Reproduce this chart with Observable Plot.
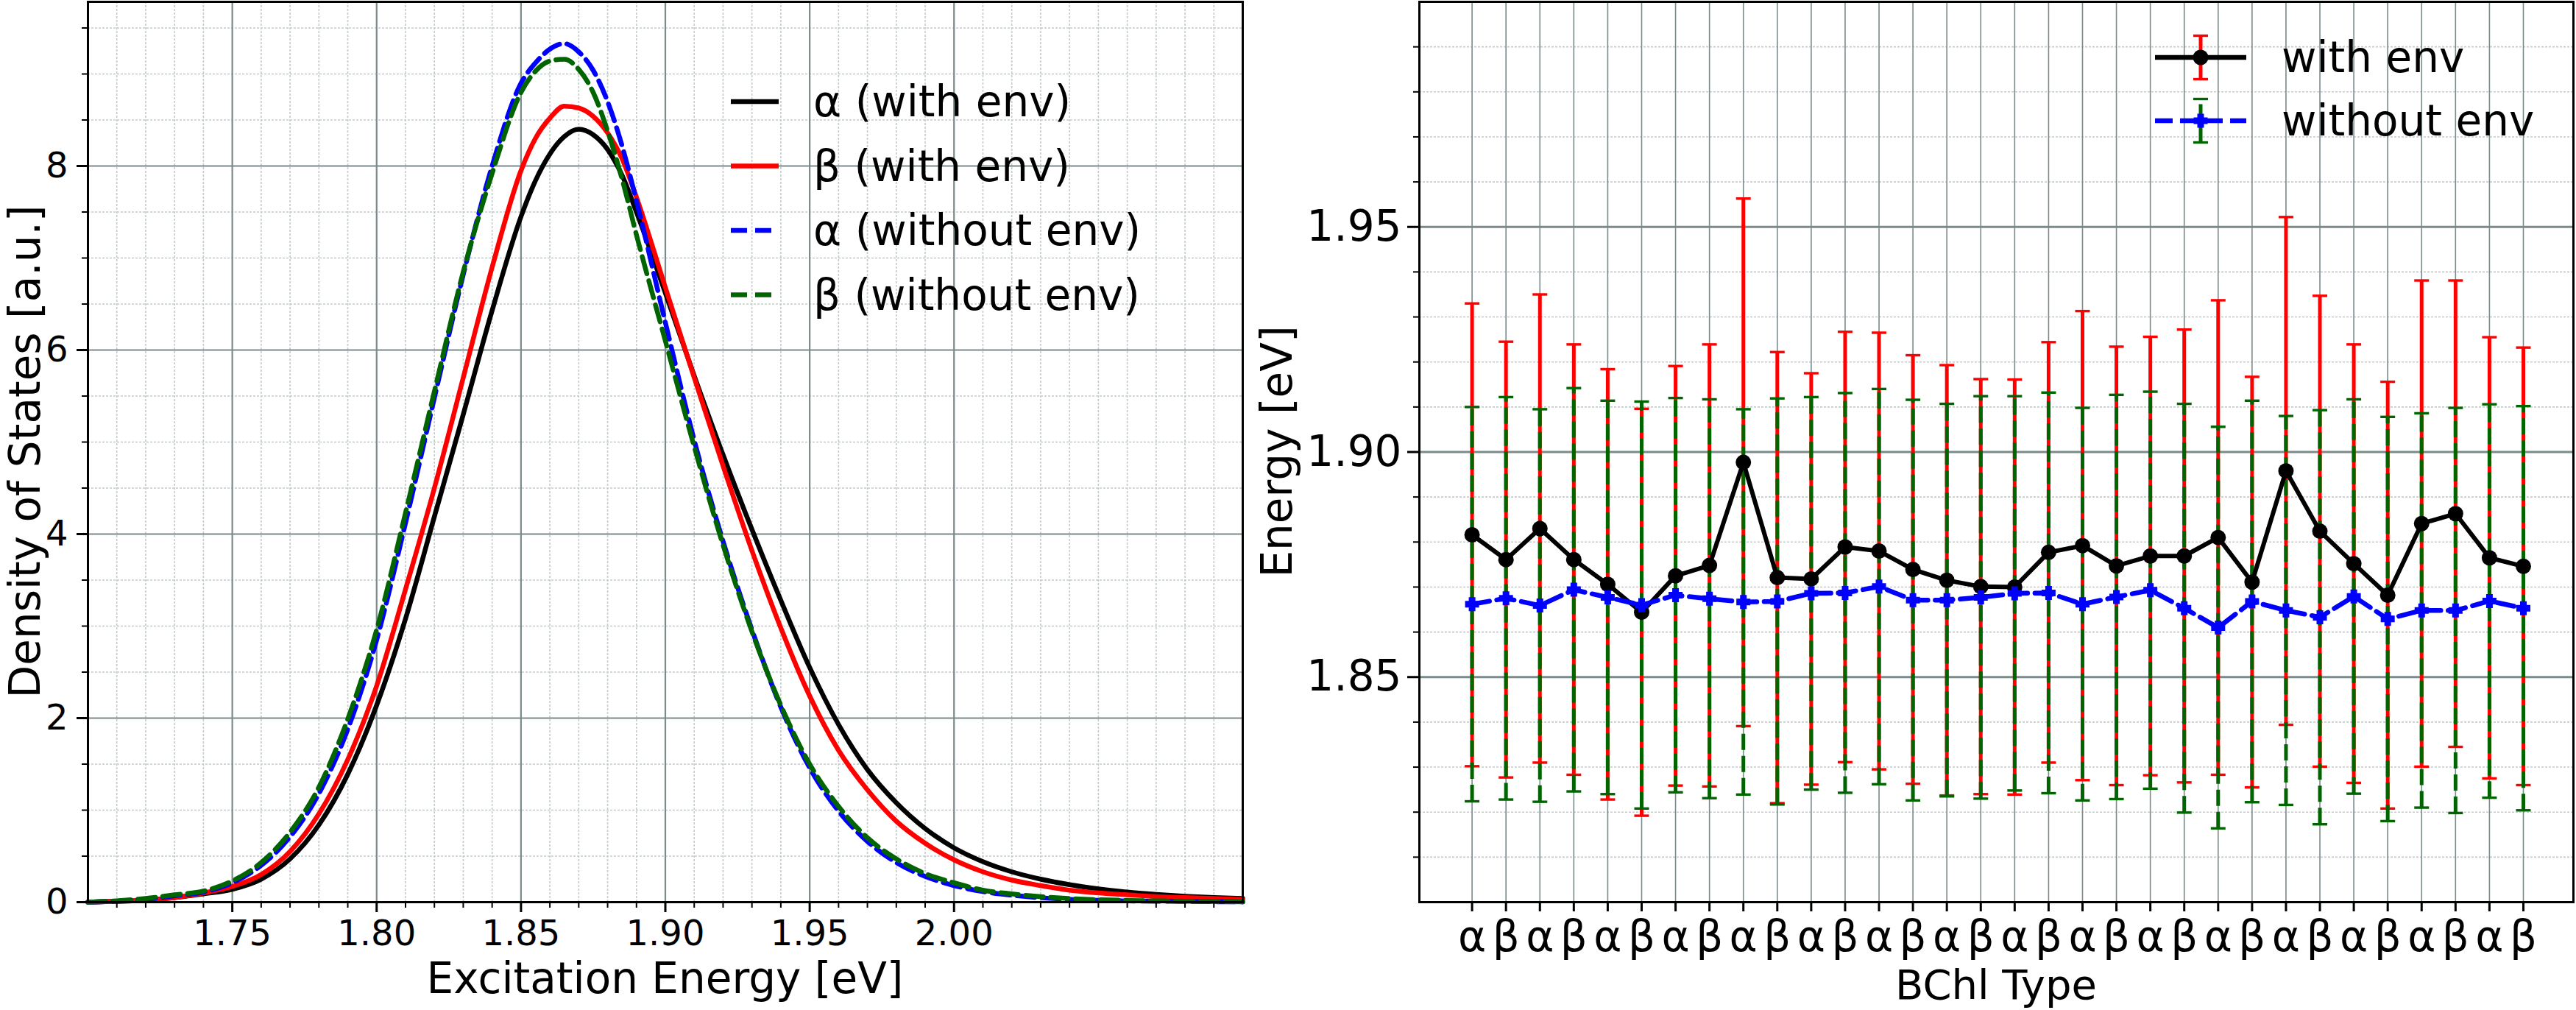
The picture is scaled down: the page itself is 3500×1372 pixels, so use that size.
<!DOCTYPE html>
<html>
<head>
<meta charset="utf-8">
<script src="https://cdn.jsdelivr.net/npm/d3@7"></script>
<script src="https://cdn.jsdelivr.net/npm/@observablehq/plot@0.6"></script>
<style>
  html, body { margin: 0; padding: 0; background: #ffffff; }
  #wrap { position: relative; width: 3500px; height: 1372px; overflow: hidden; background: #fff; font-family: "DejaVu Sans", sans-serif; }
  #left, #right { position: absolute; top: 0; }
  #left { left: 0; }
  #right { left: 1700px; }
  svg { overflow: visible; }
</style>
</head>
<body>
<div id="wrap"><div id="left"></div><div id="right"></div></div>
<script>
// ---------------- Left panel data: density of states ----------------
const energyGrid = [1.70,1.71,1.72,1.73,1.74,1.75,1.76,1.77,1.78,1.79,1.80,1.81,1.82,1.83,1.84,1.85,1.855,1.86,1.865,1.87,1.875,1.88,1.885,1.89,1.90,1.91,1.92,1.93,1.94,1.95,1.96,1.97,1.98,1.99,2.00,2.01,2.02,2.03,2.04,2.05,2.06,2.07,2.08,2.09,2.10];
const dosAlphaWithEnv = [0,0.01,0.02,0.05,0.09,0.14,0.25,0.47,0.84,1.39,2.14,3.08,4.19,5.30,6.43,7.45,7.84,8.13,8.32,8.40,8.34,8.18,7.90,7.50,6.62,5.72,4.86,4.05,3.28,2.55,1.93,1.44,1.08,0.80,0.59,0.44,0.33,0.25,0.19,0.145,0.11,0.085,0.065,0.05,0.04];
const dosBetaWithEnv = [0,0.01,0.02,0.05,0.10,0.17,0.30,0.55,0.96,1.55,2.35,3.40,4.50,5.70,6.90,7.95,8.30,8.52,8.65,8.63,8.54,8.36,8.08,7.66,6.68,5.70,4.74,3.82,2.98,2.24,1.65,1.22,0.88,0.64,0.46,0.33,0.24,0.18,0.13,0.10,0.08,0.06,0.05,0.04,0.03];
const dosAlphaWithoutEnv = [0,0.01,0.03,0.07,0.11,0.21,0.40,0.71,1.18,1.88,2.85,4.12,5.48,6.82,8.00,8.90,9.12,9.27,9.33,9.24,9.04,8.70,8.22,7.62,6.30,5.02,3.92,2.96,2.12,1.46,0.99,0.66,0.43,0.28,0.18,0.115,0.075,0.048,0.031,0.02,0.013,0.01,0.008,0.005,0.003];
const dosBetaWithoutEnv = [0,0.015,0.04,0.08,0.12,0.23,0.43,0.76,1.25,1.99,2.96,4.23,5.55,6.85,7.92,8.80,9.03,9.14,9.16,9.05,8.80,8.38,7.86,7.25,6.10,4.95,3.88,2.94,2.14,1.50,1.04,0.70,0.47,0.31,0.21,0.13,0.09,0.06,0.04,0.027,0.019,0.014,0.01,0.007,0.005];
const dosSeriesNames = ["α (with env)", "β (with env)", "α (without env)", "β (without env)"];
const energyTicks = [1.75, 1.80, 1.85, 1.90, 1.95, 2.00];
const dosTicks = [0, 2, 4, 6, 8];

// ---------------- Right panel data: per-BChl excitation energies ----------------
const bchlTypes = ["α","β","α","β","α","β","α","β","α","β","α","β","α","β","α","β","α","β","α","β","α","β","α","β","α","β","α","β","α","β","α","β"];
const energyWithEnv = [1.8816,1.8761,1.8830,1.8761,1.8706,1.8644,1.8725,1.8748,1.8977,1.8721,1.8718,1.8789,1.8780,1.8739,1.8715,1.8701,1.8700,1.8777,1.8792,1.8747,1.8769,1.8769,1.8810,1.8711,1.8958,1.8824,1.8752,1.8682,1.8841,1.8863,1.8765,1.8746];
const stdWithEnv = [0.0514,0.0484,0.0520,0.0478,0.0478,0.0452,0.0466,0.0491,0.0586,0.0501,0.0457,0.0478,0.0485,0.0476,0.0478,0.0461,0.0461,0.0467,0.0521,0.0487,0.0487,0.0503,0.0527,0.0456,0.0564,0.0523,0.0487,0.0474,0.0540,0.0518,0.0490,0.0486];
const energyWithoutEnv = [1.8662,1.8675,1.8659,1.8694,1.8677,1.8660,1.8682,1.8674,1.8667,1.8668,1.8686,1.8687,1.8701,1.8671,1.8671,1.8677,1.8686,1.8687,1.8662,1.8678,1.8693,1.8653,1.8610,1.8668,1.8648,1.8633,1.8679,1.8629,1.8648,1.8648,1.8669,1.8653];
const stdWithoutEnv = [0.0438,0.0447,0.0436,0.0448,0.0437,0.0452,0.0438,0.0443,0.0428,0.0451,0.0436,0.0444,0.0439,0.0445,0.0436,0.0447,0.0438,0.0445,0.0436,0.0449,0.0441,0.0454,0.0446,0.0446,0.0432,0.0460,0.0438,0.0449,0.0438,0.0450,0.0437,0.0449];
const energyAxisTicks = [1.85, 1.90, 1.95];
const energySeriesNames = ["with env", "without env"];

// ---------------- styles ----------------
const FONT = "DejaVu Sans";
const MAJOR_GRID = "#7b8a8b";
const MINOR_GRID = "#c3cbcb";
const RED = "#ff0000", BLUE = "#0000ff", GREEN = "#006400";

// ---------------- LEFT PANEL ----------------
const dosRows = [];
const dosLists = [dosAlphaWithEnv, dosBetaWithEnv, dosAlphaWithoutEnv, dosBetaWithoutEnv];
dosLists.forEach((vals, k) => energyGrid.forEach((e, j) => dosRows.push({series: dosSeriesNames[k], e, v: vals[j]})));

const xMinorLeft = d3.range(171, 210).map(k => k / 100).filter(v => !energyTicks.some(t => Math.abs(t - v) < 1e-6));
const yMinorLeft = d3.range(1, 20).map(k => k / 2).filter(v => !dosTicks.includes(v));

const lineStyle = {
  [dosSeriesNames[0]]: {stroke: "#000000", dash: null},
  [dosSeriesNames[1]]: {stroke: RED, dash: null},
  [dosSeriesNames[2]]: {stroke: BLUE, dash: "24,10"},
  [dosSeriesNames[3]]: {stroke: GREEN, dash: "24,10"}
};

const leftPlot = Plot.plot({
  width: 1700, height: 1372,
  marginLeft: 119, marginRight: 12, marginTop: 2, marginBottom: 147,
  style: {fontFamily: FONT, fontSize: "48px", background: "transparent", color: "#000", overflow: "visible"},
  x: {domain: [1.70, 2.10], label: null},
  y: {domain: [0, 9.784], label: null},
  marks: [
    Plot.gridX({ticks: xMinorLeft, stroke: MINOR_GRID, strokeOpacity: 1, strokeWidth: 1.6, strokeDasharray: "3,2"}),
    Plot.gridY({ticks: yMinorLeft, stroke: MINOR_GRID, strokeOpacity: 1, strokeWidth: 1.6, strokeDasharray: "3,2"}),
    Plot.gridX({ticks: energyTicks, stroke: MAJOR_GRID, strokeOpacity: 1, strokeWidth: 2.2}),
    Plot.gridY({ticks: dosTicks.filter(d => d > 0), stroke: MAJOR_GRID, strokeOpacity: 1, strokeWidth: 2.2}),
    ...dosSeriesNames.map(name => Plot.line(dosRows.filter(d => d.series === name), {
      x: "e", y: "v", curve: "monotone-x",
      stroke: lineStyle[name].stroke, strokeWidth: 6.5,
      strokeDasharray: lineStyle[name].dash || undefined
    })),
    Plot.frame({stroke: "#000", strokeWidth: 3}),
    Plot.axisX({ticks: xMinorLeft, tickSize: 8, tickFormat: () => "", strokeWidth: 2, label: null}),
    Plot.axisY({ticks: yMinorLeft, tickSize: 8, tickFormat: () => "", strokeWidth: 2, label: null}),
    Plot.axisX({ticks: energyTicks, tickSize: 14, tickPadding: 10, tickFormat: d3.format(".2f"), strokeWidth: 3, fontSize: 48, label: null}),
    Plot.axisY({ticks: dosTicks, tickSize: 15, tickPadding: 12, tickFormat: d3.format("d"), strokeWidth: 3, fontSize: 48, label: null})
  ]
});
document.getElementById("left").appendChild(leftPlot);

{
  const svg = d3.select(leftPlot);
  svg.append("text").attr("x", 903.5).attr("y", 1349).attr("text-anchor", "middle")
    .attr("font-family", FONT).attr("font-size", 58).attr("fill", "#000").text("Excitation Energy [eV]");
  svg.append("text").attr("transform", "translate(54,613.5) rotate(-90)").attr("text-anchor", "middle")
    .attr("font-family", FONT).attr("font-size", 58).attr("fill", "#000").text("Density of States [a.u.]");
  const legY = [138, 225.5, 313, 400.5];
  const lg = svg.append("g");
  dosSeriesNames.forEach((name, k) => {
    const st = lineStyle[name];
    const l = lg.append("line").attr("x1", 993).attr("x2", 1058).attr("y1", legY[k]).attr("y2", legY[k])
      .attr("stroke", st.stroke).attr("stroke-width", 6.5);
    if (st.dash) l.attr("stroke-dasharray", "22,11");
    lg.append("text").attr("x", 1105).attr("y", legY[k]).attr("dy", "0.35em").attr("text-anchor", "start")
      .attr("font-family", FONT).attr("font-size", 58).attr("fill", "#000").text(name);
  });
}

// ---------------- RIGHT PANEL ----------------
const rows = bchlTypes.map((t, i) => ({
  i, t,
  env: energyWithEnv[i], envLo: energyWithEnv[i] - stdWithEnv[i], envHi: energyWithEnv[i] + stdWithEnv[i],
  noenv: energyWithoutEnv[i], noLo: energyWithoutEnv[i] - stdWithoutEnv[i], noHi: energyWithoutEnv[i] + stdWithoutEnv[i]
}));
const idx = rows.map(d => d.i);
const yMinorRight = d3.range(181, 200).map(k => k / 100).filter(v => !energyAxisTicks.some(t => Math.abs(t - v) < 1e-6));

const capSymbol = {draw(ctx) { ctx.moveTo(-10, -1.7); ctx.lineTo(10, -1.7); ctx.lineTo(10, 1.7); ctx.lineTo(-10, 1.7); ctx.closePath(); }};
const plusSymbol = {draw(ctx) {
  const a = 9.5, b = 4.5;
  ctx.moveTo(-b, -a); ctx.lineTo(b, -a); ctx.lineTo(b, -b); ctx.lineTo(a, -b); ctx.lineTo(a, b); ctx.lineTo(b, b);
  ctx.lineTo(b, a); ctx.lineTo(-b, a); ctx.lineTo(-b, b); ctx.lineTo(-a, b); ctx.lineTo(-a, -b); ctx.lineTo(-b, -b); ctx.closePath();
}};

const rightPlot = Plot.plot({
  width: 1800, height: 1372,
  marginLeft: 228, marginRight: 4, marginTop: 2, marginBottom: 147,
  style: {fontFamily: FONT, fontSize: "58px", background: "transparent", color: "#000", overflow: "visible"},
  x: {domain: [-1.554, 32.476], label: null},
  y: {domain: [1.80, 2.00], label: null},
  marks: [
    Plot.gridY({ticks: yMinorRight, stroke: MINOR_GRID, strokeOpacity: 1, strokeWidth: 1.6, strokeDasharray: "3,2"}),
    Plot.gridX({ticks: idx, stroke: MAJOR_GRID, strokeOpacity: 1, strokeWidth: 1.6}),
    Plot.gridY({ticks: energyAxisTicks, stroke: MAJOR_GRID, strokeOpacity: 1, strokeWidth: 3}),
    // error bars with env
    Plot.ruleX(rows, {x: "i", y1: "envLo", y2: "envHi", stroke: RED, strokeWidth: 5}),
    Plot.dot(rows, {x: "i", y: "envLo", symbol: capSymbol, fill: RED}),
    Plot.dot(rows, {x: "i", y: "envHi", symbol: capSymbol, fill: RED}),
    // error bars without env
    Plot.ruleX(rows, {x: "i", y1: "noLo", y2: "noHi", stroke: GREEN, strokeWidth: 5, strokeDasharray: "22,8"}),
    Plot.dot(rows, {x: "i", y: "noLo", symbol: capSymbol, fill: GREEN}),
    Plot.dot(rows, {x: "i", y: "noHi", symbol: capSymbol, fill: GREEN}),
    // means
    Plot.line(rows, {x: "i", y: "env", stroke: "#000", strokeWidth: 6}),
    Plot.dot(rows, {x: "i", y: "env", r: 10.5, fill: "#000"}),
    Plot.line(rows, {x: "i", y: "noenv", stroke: BLUE, strokeWidth: 6.5, strokeDasharray: "24,10"}),
    Plot.dot(rows, {x: "i", y: "noenv", symbol: plusSymbol, fill: BLUE}),
    Plot.frame({stroke: "#000", strokeWidth: 3}),
    Plot.axisY({ticks: yMinorRight, tickSize: 8, tickFormat: () => "", strokeWidth: 2, label: null}),
    Plot.axisY({ticks: energyAxisTicks, tickSize: 16, tickPadding: 8, tickFormat: d3.format(".2f"), strokeWidth: 3, fontSize: 58, label: null}),
    Plot.axisX({ticks: idx, tickSize: 13, tickPadding: 12, tickFormat: i => bchlTypes[i], strokeWidth: 3, fontSize: 58, label: null})
  ]
});
document.getElementById("right").appendChild(rightPlot);

{
  const svg = d3.select(rightPlot);
  svg.append("text").attr("x", 1012).attr("y", 1357).attr("text-anchor", "middle")
    .attr("font-family", FONT).attr("font-size", 56).attr("fill", "#000").text("BChl Type");
  svg.append("text").attr("transform", "translate(55,613.5) rotate(-90)").attr("text-anchor", "middle")
    .attr("font-family", FONT).attr("font-size", 58).attr("fill", "#000").text("Energy [eV]");
  const lg = svg.append("g");
  const hx1 = 1228, hx2 = 1352, mx = 1290, tx = 1400;
  // with env
  const y1 = 78;
  lg.append("line").attr("x1", mx).attr("x2", mx).attr("y1", y1 + 29.5).attr("y2", y1 - 29.5).attr("stroke", RED).attr("stroke-width", 5);
  [y1 - 29.5, y1 + 29.5].forEach(cy => lg.append("rect").attr("x", mx - 10).attr("y", cy - 1.7).attr("width", 20).attr("height", 3.4).attr("fill", RED));
  lg.append("line").attr("x1", hx1).attr("x2", hx2).attr("y1", y1).attr("y2", y1).attr("stroke", "#000").attr("stroke-width", 6.5);
  lg.append("circle").attr("cx", mx).attr("cy", y1).attr("r", 10.5).attr("fill", "#000");
  lg.append("text").attr("x", tx).attr("y", y1).attr("dy", "0.35em").attr("text-anchor", "start").attr("font-family", FONT).attr("font-size", 58).attr("fill", "#000").text(energySeriesNames[0]);
  // without env
  const y2 = 164;
  lg.append("line").attr("x1", mx).attr("x2", mx).attr("y1", y2 + 29.5).attr("y2", y2 - 29.5).attr("stroke", GREEN).attr("stroke-width", 5).attr("stroke-dasharray", "22,8");
  [y2 - 29.5, y2 + 29.5].forEach(cy => lg.append("rect").attr("x", mx - 10).attr("y", cy - 1.7).attr("width", 20).attr("height", 3.4).attr("fill", GREEN));
  lg.append("line").attr("x1", hx1).attr("x2", hx2).attr("y1", y2).attr("y2", y2).attr("stroke", BLUE).attr("stroke-width", 6.5).attr("stroke-dasharray", "24,10");
  lg.append("path").attr("transform", `translate(${mx},${y2})`).attr("d", d3.symbol(plusSymbol)()).attr("fill", BLUE);
  lg.append("text").attr("x", tx).attr("y", y2).attr("dy", "0.35em").attr("text-anchor", "start").attr("font-family", FONT).attr("font-size", 58).attr("fill", "#000").text(energySeriesNames[1]);
}
</script>
</body>
</html>
